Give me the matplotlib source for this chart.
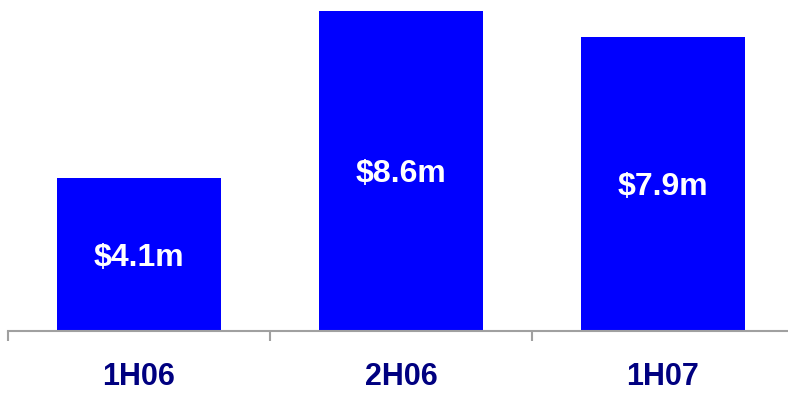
import matplotlib
matplotlib.use("Agg")
import matplotlib.pyplot as plt

categories = ["1H06", "2H06", "1H07"]
values = [4.1, 8.6, 7.9]
value_labels = ["$4.1m", "$8.6m", "$7.9m"]

W, H = 788, 393
fig = plt.figure(figsize=(W / 100, H / 100), dpi=100)
ax = fig.add_axes([8 / W, 62 / H, 786 / W, 331 / H])

x = range(len(categories))
bars = ax.bar(x, values, width=0.626, color="#0000FF", zorder=2)
for b, v, lab in zip(bars, values, value_labels):
    ax.annotate(lab, (b.get_x() + b.get_width() / 2, v / 2), xytext=(0, -3),
                textcoords="offset pixels", ha="center", va="center",
                color="white", fontsize=23, fontweight="bold",
                family="Liberation Sans")

ax.set_xlim(-0.5, 2.5)
ax.set_ylim(0, 8.6 * 331 / 320)
for s in ["top", "right", "left"]:
    ax.spines[s].set_visible(False)
ax.spines["bottom"].set_color("#A0A0A0")
ax.spines["bottom"].set_linewidth(1.5)
ax.set_yticks([])

ax.set_xticks(list(x))
ax.set_xticklabels(categories, fontsize=22, fontweight="bold", color="#000080",
                   family="Liberation Sans")
ax.tick_params(axis="x", which="major", length=0, pad=22.5)
ax.set_xticks([-0.5, 0.5, 1.5, 2.5], minor=True)
ax.tick_params(axis="x", which="minor", length=7.5, width=1.5, color="#A0A0A0")

fig.savefig("out.png", dpi=100)
